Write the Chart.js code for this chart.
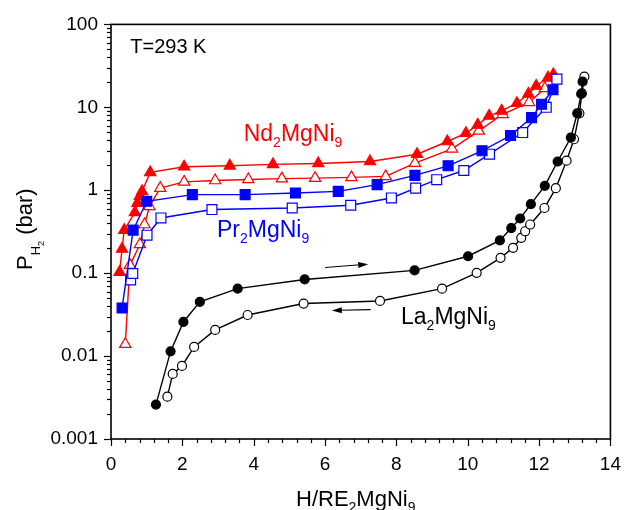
<!DOCTYPE html>
<html>
<head>
<meta charset="utf-8">
<script src="https://cdn.jsdelivr.net/npm/chart.js@4.4.0/dist/chart.umd.min.js"></script>
<style>
  body { margin: 0; background: #fff; }
</style>
</head>
<body>
<canvas id="pct" width="635" height="510"></canvas>
<script>
// H/RE2MgNi9 vs pressure (bar)
const ndAbsX = [0.24, 0.31, 0.37, 0.67, 0.74, 0.81, 0.87, 1.10, 2.05, 3.33, 4.54, 5.81, 7.26, 8.58, 9.43, 9.95, 10.28, 10.60, 10.95, 11.38, 11.70, 11.92, 12.25, 12.40];
const ndAbsY = [0.103, 0.196, 0.33, 0.54, 0.70, 0.85, 0.97, 1.64, 1.92, 1.97, 2.05, 2.10, 2.22, 2.72, 3.87, 4.87, 6.14, 7.88, 9.06, 11.2, 14.5, 18.1, 22.7, 24.9];
const ndDesX = [0.40, 0.53, 0.81, 0.94, 1.08, 1.38, 2.05, 2.92, 3.85, 4.79, 5.72, 6.74, 7.70, 8.52, 9.56, 10.31, 10.98, 11.72, 12.16];
const ndDesY = [0.0139, 0.125, 0.222, 0.386, 0.64, 1.06, 1.26, 1.31, 1.35, 1.38, 1.40, 1.43, 1.47, 2.12, 3.16, 5.2, 8.24, 11.5, 16.9];

const prAbsX = [0.31, 0.62, 1.00, 2.28, 3.76, 5.17, 6.37, 7.46, 8.52, 9.45, 10.40, 11.20, 11.79, 12.07, 12.39];
const prAbsY = [0.038, 0.33, 0.736, 0.885, 0.885, 0.926, 0.97, 1.17, 1.51, 1.97, 2.99, 4.57, 7.52, 10.9, 16.3];
const prDesX = [0.55, 0.61, 1.01, 1.40, 2.83, 5.08, 6.72, 7.86, 8.54, 9.13, 9.89, 10.61, 11.54, 12.20, 12.50];
const prDesY = [0.083, 0.099, 0.287, 0.463, 0.585, 0.611, 0.659, 0.807, 1.06, 1.34, 1.73, 2.72, 4.96, 10.0, 21.9];

const laAbsX = [1.26, 1.67, 2.03, 2.49, 3.55, 5.43, 8.51, 10.01, 10.90, 11.22, 11.47, 11.77, 12.16, 12.52, 12.89, 13.07, 13.18, 13.22];
const laAbsY = [0.0026, 0.0114, 0.0258, 0.045, 0.065, 0.084, 0.108, 0.16, 0.248, 0.35, 0.456, 0.68, 1.13, 2.22, 4.32, 8.47, 14.5, 20.4];
const laDesX = [1.58, 1.73, 1.99, 2.33, 2.92, 3.83, 5.40, 7.54, 9.28, 10.25, 10.92, 11.27, 11.50, 11.61, 11.75, 12.15, 12.47, 12.77, 12.98, 13.13, 13.20, 13.27];
const laDesY = [0.00324, 0.0061, 0.0076, 0.0129, 0.0207, 0.0313, 0.043, 0.0462, 0.065, 0.101, 0.153, 0.202, 0.267, 0.32, 0.386, 0.611, 1.06, 2.27, 4.12, 8.47, 14.7, 23.4];

const xTickValues = [0, 2, 4, 6, 8, 10, 12, 14];
const yTickValues = [0.001, 0.01, 0.1, 1, 10, 100];
const yTickLabels = ["0.001", "0.01", "0.1", "1", "10", "100"];

const FONT = "'Liberation Sans', Arial, sans-serif";
const RED = "#ff0000", BLUE = "#0000ff", BLACK = "#000000";

function series(label, xs, ys, color, style, filled, r) {
  return {
    label: label,
    data: xs.map((x, i) => ({ x: x, y: ys[i] })),
    showLine: true,
    borderColor: color,
    borderWidth: 1.4,
    pointStyle: style,
    pointRadius: r,
    pointBorderColor: color,
    pointBorderWidth: 1.2,
    pointBackgroundColor: filled ? color : "#ffffff",
    backgroundColor: color
  };
}

// text pieces: [text, size, baseline shift]
const notes = [
  { x: 0.54, y: 45.5, color: BLACK, parts: [["T=293 K", 20, 0]] },
  { x: 3.72, y: 3.88, color: RED, parts: [["Nd", 23, 0], ["2", 14, 6], ["MgNi", 23, 0], ["9", 14, 6]] },
  { x: 2.97, y: 0.276, color: BLUE, parts: [["Pr", 23, 0], ["2", 14, 6], ["MgNi", 23, 0], ["9", 14, 6]] },
  { x: 8.13, y: 0.0245, color: BLACK, parts: [["La", 23, 0], ["2", 14, 6], ["MgNi", 23, 0], ["9", 14, 6]] }
];
const arrows = [
  { from: [6.0, 0.117], to: [7.21, 0.1285] },
  { from: [7.28, 0.0364], to: [6.19, 0.0355] }
];

function drawParts(ctx, parts, x, y) {
  parts.forEach(p => {
    ctx.font = p[1] + "px " + FONT;
    ctx.fillText(p[0], x, y + p[2]);
    x += ctx.measureText(p[0]).width;
  });
}

const decor = {
  id: "decor",
  afterDraw(chart) {
    const ctx = chart.ctx, a = chart.chartArea;
    const xs = chart.scales.x, ys = chart.scales.y;
    ctx.save();
    ctx.strokeStyle = "#000";
    ctx.lineWidth = 1.2;
    // x ticks
    for (let i = 0; i <= 35; i++) {
      const px = Math.round(xs.getPixelForValue(i * 0.4)) + 0.5;
      const len = i % 5 === 0 ? 7 : 4;
      ctx.beginPath();
      ctx.moveTo(px, a.bottom);
      ctx.lineTo(px, a.bottom + len);
      ctx.stroke();
    }
    // y ticks (log)
    for (let e = -3; e <= 2; e++) {
      for (let m = 1; m <= 9; m++) {
        if (e === 2 && m > 1) break;
        const py = Math.round(ys.getPixelForValue(m * Math.pow(10, e))) + 0.5;
        const len = m === 1 ? 7 : 4;
        ctx.beginPath();
        ctx.moveTo(a.left, py);
        ctx.lineTo(a.left - len, py);
        ctx.stroke();
      }
    }
    // frame
    ctx.lineWidth = 1.6;
    ctx.strokeRect(a.left, a.top, a.right - a.left, a.bottom - a.top);

    // annotations
    ctx.textAlign = "left";
    ctx.textBaseline = "alphabetic";
    notes.forEach(n => {
      ctx.fillStyle = n.color;
      drawParts(ctx, n.parts, xs.getPixelForValue(n.x), ys.getPixelForValue(n.y));
    });
    ctx.fillStyle = "#000";
    ctx.lineWidth = 1.2;
    arrows.forEach(ar => {
      const x1 = xs.getPixelForValue(ar.from[0]), y1 = ys.getPixelForValue(ar.from[1]);
      const x2 = xs.getPixelForValue(ar.to[0]), y2 = ys.getPixelForValue(ar.to[1]);
      const ang = Math.atan2(y2 - y1, x2 - x1);
      ctx.beginPath();
      ctx.moveTo(x1, y1);
      ctx.lineTo(x2 - 8 * Math.cos(ang), y2 - 8 * Math.sin(ang));
      ctx.stroke();
      ctx.beginPath();
      ctx.moveTo(x2, y2);
      ctx.lineTo(x2 - 10 * Math.cos(ang) + 3 * Math.sin(ang), y2 - 10 * Math.sin(ang) - 3 * Math.cos(ang));
      ctx.lineTo(x2 - 10 * Math.cos(ang) - 3 * Math.sin(ang), y2 - 10 * Math.sin(ang) + 3 * Math.cos(ang));
      ctx.closePath();
      ctx.fill();
    });

    // axis titles
    ctx.fillStyle = "#000";
    ctx.textAlign = "left";
    drawParts(ctx, [["H/RE", 22, 0], ["2", 14, 6], ["MgNi", 22, 0], ["9", 14, 6]], 296, 506);
    ctx.translate(32, 270);
    ctx.rotate(-Math.PI / 2);
    drawParts(ctx, [["P", 22, 0], ["H", 13, 8], ["2", 9, 12], [" (bar)", 22, 0]], 0, 0);
    ctx.restore();
  }
};

new Chart(document.getElementById("pct"), {
  type: "scatter",
  data: {
    datasets: [
      series("La2MgNi9 abs", laAbsX, laAbsY, BLACK, "circle", true, 4.5),
      series("La2MgNi9 des", laDesX, laDesY, BLACK, "circle", false, 4.5),
      series("Pr2MgNi9 abs", prAbsX, prAbsY, BLUE, "rect", true, 7),
      series("Pr2MgNi9 des", prDesX, prDesY, BLUE, "rect", false, 7),
      series("Nd2MgNi9 abs", ndAbsX, ndAbsY, RED, "triangle", true, 6.5),
      series("Nd2MgNi9 des", ndDesX, ndDesY, RED, "triangle", false, 6.5)
    ]
  },
  options: {
    responsive: false,
    animation: false,
    devicePixelRatio: 1,
    layout: { padding: { left: 0, top: 22, right: 13, bottom: 0 } },
    plugins: { legend: { display: false }, tooltip: { enabled: false } },
    scales: {
      x: {
        type: "linear",
        min: 0,
        max: 14,
        afterBuildTicks: s => { s.ticks = xTickValues.map(v => ({ value: v })); },
        afterFit: s => { s.height = 71; },
        grid: { display: false, drawTicks: false },
        border: { display: false },
        ticks: { color: "#000", font: { family: FONT, size: 19 }, padding: 14, maxRotation: 0, autoSkip: false }
      },
      y: {
        type: "logarithmic",
        min: 0.001,
        max: 100,
        afterBuildTicks: s => { s.ticks = yTickValues.map(v => ({ value: v })); },
        afterFit: s => { s.width = 111; },
        grid: { display: false, drawTicks: false },
        border: { display: false },
        ticks: {
          color: "#000",
          font: { family: FONT, size: 19 },
          padding: 13,
          autoSkip: false,
          callback: (v) => yTickLabels[yTickValues.indexOf(v)]
        }
      }
    }
  },
  plugins: [decor]
});
</script>
</body>
</html>
